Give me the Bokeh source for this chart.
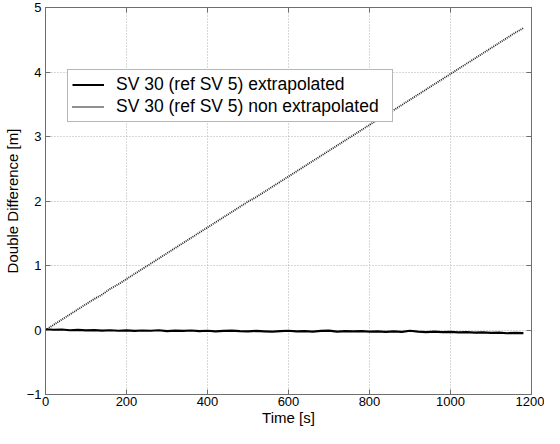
from bokeh.plotting import figure
from bokeh.models import Range1d, LinearAxis, SingleIntervalTicker, Legend, LegendItem
from bokeh.embed import file_html
from bokeh.resources import INLINE

time_s = [0, 20, 40, 60, 80, 100, 120, 140, 160, 180, 200, 220, 240, 260, 280, 300,
          320, 340, 360, 380, 400, 420, 440, 460, 480, 500, 520, 540, 560, 580, 600,
          620, 640, 660, 680, 700, 720, 740, 760, 780, 800, 820, 840, 860, 880, 900,
          920, 940, 960, 980, 1000, 1020, 1040, 1060, 1080, 1100, 1120, 1140, 1160, 1180]

extrapolated = [0.012, 0.004, 0.008, -0.004, 0.002, -0.006, -0.002, -0.010, -0.004, -0.012,
                -0.006, -0.014, -0.008, -0.012, -0.004, -0.016, -0.010, -0.014, -0.008, -0.018,
                -0.012, -0.020, -0.014, -0.010, -0.018, -0.022, -0.014, -0.020, -0.026, -0.018,
                -0.012, -0.022, -0.016, -0.026, -0.014, -0.010, -0.024, -0.018, -0.022, -0.016,
                -0.026, -0.020, -0.028, -0.022, -0.030, -0.012, -0.024, -0.032, -0.026, -0.034,
                -0.030, -0.038, -0.032, -0.040, -0.036, -0.044, -0.040, -0.050, -0.044, -0.048]

non_extrapolated = [0.00, 0.08, 0.16, 0.24, 0.32, 0.40, 0.48, 0.55, 0.64, 0.71,
                    0.79, 0.87, 0.95, 1.03, 1.11, 1.19, 1.27, 1.35, 1.43, 1.51,
                    1.59, 1.67, 1.75, 1.83, 1.91, 1.99, 2.06, 2.14, 2.22, 2.30,
                    2.38, 2.46, 2.54, 2.62, 2.70, 2.78, 2.86, 2.94, 3.02, 3.10,
                    3.18, 3.26, 3.33, 3.41, 3.49, 3.57, 3.65, 3.73, 3.81, 3.89,
                    3.97, 4.05, 4.13, 4.21, 4.29, 4.37, 4.45, 4.53, 4.61, 4.68]

legend_labels = ["SV 30 (ref SV 5) extrapolated", "SV 30 (ref SV 5) non extrapolated"]
x_label = "Time [s]"
y_label = "Double Difference [m]"

FONT = "Liberation Sans"
AXIS_COLOR = "#6e6e6e"

p = figure(width=544, height=428, output_backend="svg", toolbar_location=None,
           x_range=Range1d(0, 1200), y_range=Range1d(-1, 5),
           min_border_left=37, min_border_right=13, min_border_top=7, min_border_bottom=0)
p.outline_line_color = AXIS_COLOR
p.background_fill_color = "white"
p.border_fill_color = "white"

xt = SingleIntervalTicker(interval=200, num_minor_ticks=0)
yt = SingleIntervalTicker(interval=1, num_minor_ticks=0)

for ax, tk in ((p.xaxis[0], xt), (p.yaxis[0], yt)):
    ax.ticker = tk
    ax.major_tick_in = 5
    ax.major_tick_out = 0
    ax.minor_tick_line_color = None
    ax.axis_line_color = AXIS_COLOR
    ax.major_tick_line_color = AXIS_COLOR
    ax.major_label_text_font = FONT
    ax.major_label_text_font_size = "13px"
    ax.major_label_text_color = "black"
    ax.axis_label_text_font = FONT
    ax.axis_label_text_font_size = "15px"
    ax.axis_label_text_font_style = "normal"
    ax.axis_label_text_color = "black"

p.xaxis.axis_label = x_label
p.yaxis.axis_label = y_label
p.xaxis.major_label_standoff = 2
p.xaxis.axis_label_standoff = 0
p.yaxis.major_label_standoff = 4
p.yaxis.axis_label_standoff = 3

for loc, tk in (("right", yt), ("above", xt)):
    ax = LinearAxis(ticker=tk, major_tick_in=5, major_tick_out=0,
                    axis_line_color=AXIS_COLOR, major_tick_line_color=AXIS_COLOR,
                    minor_tick_line_color=None, major_label_text_font_size="0px",
                    major_label_text_color=None, major_label_standoff=0)
    p.add_layout(ax, loc)

for g in (p.xgrid[0], p.ygrid[0]):
    g.grid_line_color = "#b0b0b0"
    g.grid_line_dash = "1 2"
    g.grid_line_width = 1
p.xgrid.ticker = xt
p.ygrid.ticker = yt

r1 = p.line(time_s, extrapolated, line_color="black", line_width=2.2)
r2 = p.line(time_s, non_extrapolated, line_color="#222222", line_width=1.8, line_dash="1 1")

legend = Legend(items=[LegendItem(label=legend_labels[0], renderers=[r1]),
                       LegendItem(label=legend_labels[1], renderers=[r2])],
                location=(22, 272))
legend.label_text_font = FONT
legend.label_text_font_size = "17.5px"
legend.label_text_color = "black"
legend.glyph_width = 32
legend.glyph_height = 19
legend.label_height = 19
legend.label_width = 272
legend.label_standoff = 12
legend.spacing = 1
legend.padding = 4
legend.margin = 0
legend.border_line_color = AXIS_COLOR
legend.border_line_width = 1
legend.background_fill_color = "white"
legend.background_fill_alpha = 1
p.add_layout(legend, "center")

open("out.html", "w").write(file_html(p, INLINE))
